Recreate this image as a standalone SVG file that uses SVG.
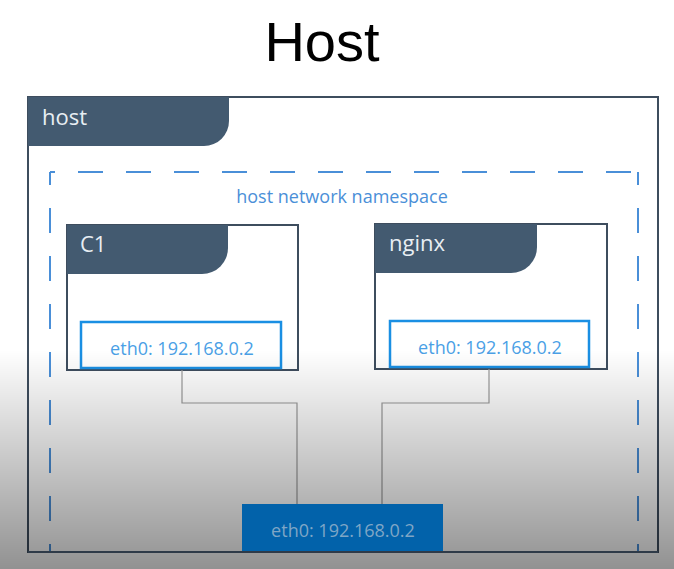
<svg xmlns="http://www.w3.org/2000/svg" width="674" height="569" viewBox="0 0 674 569">
  <defs>
    <linearGradient id="shade" x1="0" y1="0" x2="0" y2="1">
      <stop offset="0" stop-color="#000" stop-opacity="0"/>
      <stop offset="1" stop-color="#000" stop-opacity="0.43"/>
    </linearGradient>
    <style>
      .frame { fill: #ffffff; stroke: #3e4d5e; stroke-width: 2; }
      .tab { fill: #435a70; }
      .tabtxt { font-family: "Open Sans", "Noto Sans", sans-serif; font-size: 22px; fill: #e8eef3; }
      .eth { fill: #ffffff; stroke: #1a8fe3; stroke-width: 2.5; }
      .ethtxt { font-family: "Open Sans", "Noto Sans", sans-serif; font-size: 18px; fill: #4a9fe6; text-anchor: middle; }
      .ns { fill: none; stroke: #4a8fd8; stroke-width: 2; stroke-dasharray: 25 23; }
      .link { fill: none; stroke: #9a9a9a; stroke-width: 1.2; }
    </style>
  </defs>
  <rect width="674" height="569" fill="#ffffff"/>
  <text x="322" y="61" font-family="Liberation Sans, Arial, sans-serif" font-size="56" text-anchor="middle" fill="#000">Host</text>

  <g id="host">
    <rect class="frame" x="28" y="97" width="630" height="455"/>
    <path class="tab" d="M28 97 H229 V121 A25 25 0 0 1 204 146 H28 Z"/>
    <text class="tabtxt" x="42" y="125">host</text>
  </g>

  <g id="namespace">
    <path class="ns" stroke-dashoffset="20" d="M50 172 H638"/>
    <path class="ns" stroke-dashoffset="12" d="M50 172 V552"/>
    <path class="ns" stroke-dashoffset="12" d="M638 172 V552"/>
    <text x="342" y="203" font-family="Open Sans, Noto Sans, sans-serif" font-size="18" fill="#4a8fd8" text-anchor="middle">host network namespace</text>
  </g>

  <g id="c1">
    <rect class="frame" x="67" y="225" width="231" height="145"/>
    <path class="tab" d="M67 225 H228 V248 A26 26 0 0 1 202 274 H67 Z"/>
    <text class="tabtxt" x="80" y="252">C1</text>
  </g>
  <g id="c1-eth0">
    <rect class="eth" x="81" y="322" width="200" height="46"/>
    <text class="ethtxt" x="182" y="355">eth0: 192.168.0.2</text>
  </g>

  <g id="nginx">
    <rect class="frame" x="375" y="224" width="232" height="145"/>
    <path class="tab" d="M375 224 H537 V247 A26 26 0 0 1 511 273 H375 Z"/>
    <text class="tabtxt" x="389" y="251">nginx</text>
  </g>
  <g id="nginx-eth0">
    <rect class="eth" x="390" y="321" width="199" height="46"/>
    <text class="ethtxt" x="490" y="354">eth0: 192.168.0.2</text>
  </g>

  <g id="connectors">
    <path class="link" d="M182 370 V403 H297 V504"/>
    <path class="link" d="M489 369 V403 H382 V504"/>
  </g>

  <rect x="0" y="350" width="674" height="219" fill="url(#shade)" pointer-events="none"/>

  <g id="host-eth0">
    <rect x="242" y="504" width="201" height="48" fill="#0262aa"/>
    <text x="343" y="537" font-family="Open Sans, Noto Sans, sans-serif" font-size="18" fill="#7fa6c6" text-anchor="middle">eth0: 192.168.0.2</text>
  </g>
  <path d="M28 552 H658" stroke="#2e3a48" stroke-width="2"/>
</svg>
